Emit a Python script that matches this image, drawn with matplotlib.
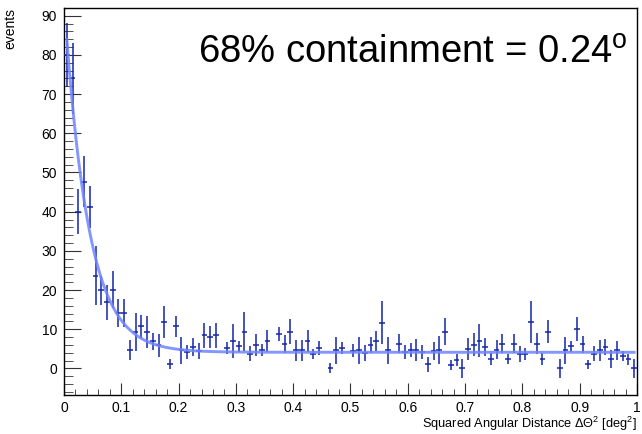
import numpy as np
import matplotlib
matplotlib.use("Agg")
import matplotlib.pyplot as plt
from matplotlib.ticker import MultipleLocator

plt.rcParams['font.family'] = ['Liberation Sans', 'DejaVu Sans']
plt.rcParams['mathtext.fontset'] = 'custom'
plt.rcParams['mathtext.rm'] = 'Liberation Sans'
plt.rcParams['mathtext.it'] = 'Liberation Sans:italic'

# histogram of squared angular distance, 100 bins on [0, 1] deg^2
bin_width = 0.01
counts = [
    80.0, 74.0, 40.0, 47.6, 41.2, 23.7, 19.9, 16.9, 20.1, 14.1,
    14.1, 4.7, 9.3, 10.7, 9.3, 6.9, 5.9, 11.8, 1.1, 10.7,
    4.6, 4.2, 5.4, 4.4, 8.4, 7.9, 8.4, 0.0, 5.2, 7.0,
    5.7, 9.4, 3.7, 5.9, 4.6, 7.0, 0.0, 8.7, 6.3, 9.4,
    4.6, 4.6, 7.0, 3.7, 5.2, 0.0, 0.0, 4.6, 5.2, 0.0,
    4.5, 4.6, 3.9, 6.0, 7.0, 11.7, 4.6, 0.0, 6.3, 4.2,
    4.6, 4.6, 4.2, 1.0, 4.4, 4.7, 9.4, 0.9, 2.2, 0.0,
    5.0, 6.0, 7.1, 5.4, 2.3, 4.8, 6.3, 2.3, 6.3, 3.7,
    3.7, 11.8, 6.3, 2.3, 9.4, 0.0, 0.0, 4.6, 5.6, 10.1,
    6.1, 1.0, 3.7, 4.6, 5.4, 2.3, 4.6, 3.1, 2.3, 0.0,
]
errors = [
    8.1, 9.0, 5.7, 6.5, 5.3, 7.6, 3.6, 4.5, 4.8, 3.5,
    3.5, 2.6, 4.8, 2.9, 4.0, 2.2, 2.9, 4.0, 1.2, 2.6,
    3.5, 1.8, 2.3, 2.1, 3.1, 2.8, 3.2, 0.0, 1.6, 4.3,
    1.4, 5.0, 1.9, 2.8, 1.5, 2.8, 0.0, 1.8, 2.3, 3.3,
    2.6, 2.6, 2.8, 1.3, 1.7, 0.0, 1.3, 3.5, 1.6, 0.0,
    1.6, 3.5, 2.0, 2.1, 2.5, 5.5, 3.5, 0.0, 2.5, 1.7,
    1.8, 2.8, 1.7, 1.9, 2.2, 3.5, 3.5, 1.3, 1.5, 2.5,
    2.8, 2.9, 4.2, 2.3, 1.5, 2.5, 2.5, 1.3, 2.5, 2.0,
    1.5, 5.4, 2.7, 1.5, 2.9, 0.0, 2.5, 3.4, 1.5, 3.0,
    2.1, 1.2, 1.9, 2.6, 2.0, 2.3, 2.4, 1.3, 1.4, 2.5,
]

# exponential + flat background fit
fit_amp = 90.0
fit_tau = 0.0417
fit_const = 4.1
containment_68 = 0.24

counts = np.array(counts)
errors = np.array(errors)
centers = (np.arange(len(counts)) + 0.5) * bin_width
filled = errors > 0

fig = plt.figure(figsize=(6.42, 4.34), dpi=100)
ax = fig.add_axes([0.0997, 0.0899, 0.8925, 0.8917])

ax.errorbar(centers[filled], counts[filled], yerr=errors[filled], xerr=bin_width / 2,
            fmt='none', ecolor='#1426a8', elinewidth=1.1, capsize=0, zorder=3)

xf = np.linspace(centers[0], centers[-1], 500)
ax.plot(xf, fit_amp * np.exp(-xf / fit_tau) + fit_const, color='#7084ff',
        linewidth=2.1, alpha=0.85, zorder=4)

ax.set_xlim(0, 1)
ax.set_ylim(-6.8, 92)
ax.xaxis.set_major_locator(MultipleLocator(0.1))
ax.xaxis.set_minor_locator(MultipleLocator(0.02))
ax.yaxis.set_major_locator(MultipleLocator(10))
ax.yaxis.set_minor_locator(MultipleLocator(2))
ax.xaxis.set_major_formatter(plt.FuncFormatter(lambda v, p: f'{v:g}'))

ax.tick_params(axis='both', which='both', direction='in', top=False, right=False,
               labelsize=10, color='#333333')
ax.tick_params(axis='y', which='major', length=12.3, pad=5)
ax.tick_params(axis='y', which='minor', length=6.2)
ax.tick_params(axis='x', which='major', length=8.4, pad=4)
ax.tick_params(axis='x', which='minor', length=4.2)
for s in ax.spines.values():
    s.set_linewidth(1.0)

ax.set_xlabel(r'Squared Angular Distance $\Delta\Theta^{2}$ [deg$^{2}$]', fontsize=9.2,
              loc='right', labelpad=0)
ax.set_ylabel('events', fontsize=10, loc='top', labelpad=17)

fig.text(0.978, 0.855, f'68% containment = {containment_68}$^{{\\mathrm{{o}}}}$',
         ha='right', va='baseline', fontsize=27.5, fontweight='light')

fig.savefig('out.png', dpi=100)
